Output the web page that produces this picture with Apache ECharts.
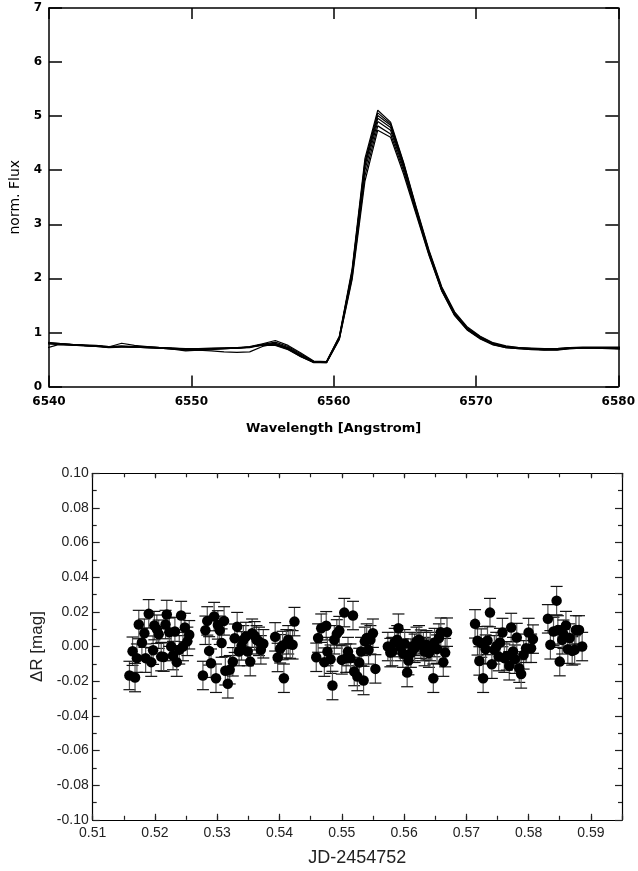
<!DOCTYPE html>
<html><head><meta charset="utf-8">
<script src="https://cdn.jsdelivr.net/npm/echarts@6/dist/echarts.min.js"></script>
<style>html,body{margin:0;padding:0;background:#fff}#c{width:638px;height:871px}</style>
</head><body><div id="c"></div>
<script>
// ---- Top panel: H-alpha spectra ----
var wavelength = [6539.7,6540.6,6541.5,6542.4,6543.3,6544.2,6545.1,6546.0,6546.9,6547.8,6548.7,6549.6,6550.5,6551.4,6552.3,6553.2,6554.1,6555.0,6555.9,6556.8,6557.7,6558.6,6559.5,6560.4,6561.3,6562.2,6563.1,6564.0,6564.9,6565.8,6566.7,6567.6,6568.5,6569.4,6570.3,6571.2,6572.1,6573.0,6573.9,6574.8,6575.7,6576.6,6577.5,6578.4,6579.3,6580.2];
var spec1 = [0.81,0.80,0.78,0.77,0.76,0.74,0.75,0.74,0.73,0.72,0.71,0.70,0.70,0.71,0.71,0.71,0.74,0.79,0.85,0.76,0.62,0.47,0.46,0.93,2.18,4.22,5.11,4.89,4.16,3.32,2.52,1.84,1.38,1.10,0.93,0.81,0.75,0.72,0.71,0.70,0.70,0.72,0.72,0.72,0.72,0.72];
var spec2 = [0.70,0.77,0.77,0.76,0.75,0.73,0.74,0.74,0.73,0.72,0.70,0.68,0.68,0.70,0.71,0.72,0.73,0.78,0.82,0.74,0.60,0.46,0.46,0.92,2.14,4.16,5.06,4.86,4.14,3.30,2.50,1.82,1.36,1.08,0.92,0.80,0.74,0.72,0.70,0.69,0.70,0.72,0.73,0.73,0.73,0.73];
var spec3 = [0.80,0.79,0.77,0.76,0.74,0.73,0.80,0.76,0.74,0.72,0.70,0.67,0.67,0.68,0.70,0.71,0.73,0.78,0.80,0.72,0.58,0.46,0.45,0.91,2.12,4.12,5.01,4.83,4.12,3.28,2.49,1.81,1.35,1.07,0.91,0.79,0.74,0.71,0.70,0.69,0.69,0.71,0.72,0.72,0.72,0.72];
var spec4 = [0.79,0.78,0.77,0.75,0.74,0.72,0.73,0.73,0.72,0.71,0.69,0.68,0.67,0.66,0.64,0.63,0.64,0.74,0.79,0.71,0.57,0.45,0.45,0.90,2.10,4.08,4.96,4.79,4.09,3.26,2.47,1.79,1.34,1.06,0.90,0.79,0.73,0.71,0.69,0.68,0.69,0.71,0.72,0.72,0.71,0.70];
var spec5 = [0.80,0.79,0.77,0.76,0.75,0.73,0.74,0.73,0.72,0.71,0.69,0.66,0.67,0.69,0.70,0.71,0.72,0.77,0.78,0.70,0.56,0.45,0.45,0.89,2.08,4.00,4.90,4.74,4.05,3.24,2.46,1.78,1.33,1.05,0.89,0.78,0.73,0.71,0.69,0.68,0.68,0.71,0.72,0.72,0.72,0.72];
var spec6 = [0.82,0.80,0.78,0.76,0.75,0.74,0.74,0.73,0.73,0.72,0.71,0.69,0.69,0.70,0.71,0.72,0.73,0.77,0.77,0.69,0.55,0.45,0.44,0.88,2.02,3.90,4.82,4.67,4.00,3.21,2.44,1.77,1.32,1.05,0.89,0.78,0.72,0.70,0.69,0.68,0.68,0.70,0.71,0.71,0.71,0.71];
var spec7 = [0.81,0.79,0.78,0.76,0.75,0.73,0.74,0.73,0.72,0.71,0.70,0.69,0.69,0.70,0.70,0.71,0.73,0.76,0.76,0.68,0.55,0.44,0.44,0.87,1.98,3.80,4.74,4.61,3.94,3.18,2.42,1.76,1.31,1.04,0.88,0.77,0.72,0.70,0.68,0.67,0.67,0.70,0.71,0.71,0.70,0.69];
var spectra = [spec1, spec2, spec3, spec4, spec5, spec6, spec7];

// ---- Bottom panel: differential photometry ----
var jd = [0.5159,0.5164,0.5168,0.5171,0.5174,0.5179,0.5183,0.5185,0.5190,0.5194,0.5197,0.5199,0.5203,0.5206,0.5210,0.5214,0.5217,0.5219,0.5223,0.5226,0.5229,0.5232,0.5235,0.5239,0.5242,0.5245,0.5248,0.5252,0.5255,
0.5277,0.5281,0.5284,0.5287,0.5290,0.5295,0.5298,0.5301,0.5304,0.5307,0.5311,0.5313,0.5317,0.5320,0.5325,0.5328,0.5332,0.5335,0.5339,0.5342,0.5346,0.5349,0.5353,0.5356,0.5360,0.5363,0.5367,0.5370,0.5374,
0.5393,0.5397,0.5401,0.5405,0.5407,0.5411,0.5414,0.5417,0.5421,0.5424,
0.5459,0.5462,0.5467,0.5472,0.5475,0.5477,0.5482,0.5485,0.5488,0.5492,0.5496,0.5500,0.5504,0.5507,0.5510,0.5514,0.5518,0.5520,0.5525,0.5528,0.5531,0.5535,0.5537,0.5540,0.5543,0.5546,0.5550,0.5554,
0.5574,0.5578,0.5581,0.5585,0.5589,0.5591,0.5594,0.5598,0.5601,0.5605,0.5607,0.5611,0.5613,0.5617,0.5620,0.5624,0.5627,0.5631,0.5633,0.5636,0.5640,0.5642,0.5647,0.5649,0.5653,0.5656,0.5659,0.5663,0.5666,0.5669,
0.5714,0.5718,0.5721,0.5724,0.5727,0.5731,0.5734,0.5738,0.5741,0.5745,0.5748,0.5752,0.5754,0.5758,0.5761,0.5765,0.5769,0.5772,0.5775,0.5778,0.5781,0.5785,0.5788,0.5792,0.5796,0.5800,0.5804,0.5807,
0.5831,0.5835,0.5840,0.5845,0.5847,0.5850,0.5854,0.5856,0.5860,0.5863,0.5866,0.5870,0.5874,0.5876,0.5881,0.5886];
var dR = [-0.0167,-0.0027,-0.0179,-0.0067,0.0127,0.0023,0.0077,-0.0067,0.0189,-0.0090,-0.0021,0.0121,0.0100,0.0071,-0.0058,-0.0061,0.0127,0.0185,0.0083,0.0000,-0.0052,0.0087,-0.0090,-0.0019,0.0179,0.0000,0.0110,0.0030,0.0068,
-0.0167,0.0094,0.0148,-0.0025,-0.0096,0.0173,-0.0183,0.0125,0.0094,0.0020,0.0148,-0.0140,-0.0215,-0.0134,-0.0088,0.0048,0.0115,-0.0029,0.0004,0.0039,0.0058,-0.0029,-0.0087,0.0077,0.0062,0.0039,0.0030,-0.0019,0.0016,
0.0056,-0.0063,-0.0013,0.0006,-0.0183,0.0016,0.0039,0.0014,0.0010,0.0144,
-0.0062,0.0049,0.0106,-0.0090,0.0120,-0.0029,-0.0073,-0.0225,0.0039,0.0073,0.0092,-0.0077,0.0196,-0.0067,-0.0029,-0.0067,0.0179,-0.0144,-0.0173,-0.0092,-0.0029,-0.0196,0.0030,0.0049,-0.0019,0.0039,0.0077,-0.0129,
0.0000,-0.0035,-0.0029,0.0023,0.0039,0.0106,0.0000,-0.0038,0.0016,-0.0150,-0.0081,-0.0038,0.0000,-0.0010,0.0030,0.0039,0.0014,0.0000,-0.0029,0.0010,-0.0038,0.0000,-0.0183,0.0023,-0.0015,0.0049,0.0083,-0.0090,-0.0035,0.0083,
0.0131,0.0033,-0.0083,0.0020,-0.0183,-0.0015,0.0035,0.0196,-0.0102,-0.0019,0.0000,-0.0058,0.0023,0.0081,-0.0067,-0.0054,-0.0111,0.0110,-0.0029,-0.0073,0.0052,-0.0125,-0.0158,-0.0048,-0.0010,0.0081,-0.0010,0.0043,
0.0160,0.0010,0.0087,0.0265,0.0096,-0.0087,0.0039,0.0071,0.0121,-0.0015,0.0049,-0.0025,-0.0019,0.0096,0.0096,0.0000];
var dRerr = 0.0082;

var topXTicks = ['6540','6550','6560','6570','6580'];

var chart = echarts.init(document.getElementById('c'), null, {renderer:'canvas'});

var boldFont = 'DejaVu Sans';
var sansFont = 'Liberation Sans';

var specSeries = spectra.map(function (s) {
  return {
    type: 'line', xAxisIndex: 0, yAxisIndex: 0, showSymbol: false, symbol: 'none',
    data: wavelength.map(function (w, i) { return [w, s[i]]; }),
    lineStyle: {color: '#000', width: 1.2}, clip: true, animation: false, silent: true
  };
});

var pts = jd.map(function (x, i) { return [x, dR[i]]; });

var errSeries = {
  type: 'custom', xAxisIndex: 4, yAxisIndex: 2, animation: false, silent: true,
  data: jd.map(function (x, i) { return [x, dR[i] - dRerr, dR[i] + dRerr]; }),
  renderItem: function (params, api) {
    var lo = api.coord([api.value(0), api.value(1)]);
    var hi = api.coord([api.value(0), api.value(2)]);
    var hw = 6;
    return {
      type: 'group',
      children: [
        {type: 'line', shape: {x1: lo[0], y1: lo[1], x2: hi[0], y2: hi[1]}, style: {stroke: '#555', lineWidth: 1.2}},
        {type: 'line', shape: {x1: lo[0] - hw, y1: lo[1], x2: lo[0] + hw, y2: lo[1]}, style: {stroke: '#111', lineWidth: 1.2}},
        {type: 'line', shape: {x1: hi[0] - hw, y1: hi[1], x2: hi[0] + hw, y2: hi[1]}, style: {stroke: '#111', lineWidth: 1.2}}
      ]
    };
  }
};

var ptSeries = {
  type: 'scatter', xAxisIndex: 4, yAxisIndex: 2, data: pts, symbol: 'circle', symbolSize: 10.5,
  itemStyle: {color: '#000', opacity: 1}, animation: false, silent: true
};

function frameAxisLine(w) { return {show: true, onZero: false, lineStyle: {color: '#000', width: w}}; }

var option = {
  backgroundColor: '#fff',
  animation: false,
  grid: [
    {left: 48.5, top: 8, right: 14.5, height: 378.5},
    {left: 92.7, top: 473.3, right: 16, height: 346.5}
  ],
  xAxis: [
    {type: 'value', gridIndex: 0, min: 6540, max: 6580, interval: 10, position: 'bottom',
     axisLine: frameAxisLine(1.5), axisTick: {inside: true, length: 11, lineStyle: {color: '#000', width: 1.5}},
     axisLabel: {margin: 9, color: '#000', fontFamily: boldFont, fontWeight: 'bold', fontSize: 12,
       formatter: function (v) { return topXTicks.indexOf(String(v)) >= 0 ? String(v) : ''; }},
     splitLine: {show: false},
     name: 'Wavelength [Angstrom]', nameLocation: 'middle', nameGap: 36,
     nameTextStyle: {color: '#000', fontFamily: boldFont, fontWeight: 'bold', fontSize: 13}},
    {type: 'value', gridIndex: 0, min: 6540, max: 6580, interval: 10, position: 'top',
     axisLine: frameAxisLine(1.5), axisTick: {inside: true, length: 11, lineStyle: {color: '#000', width: 1.5}},
     axisLabel: {show: false}, splitLine: {show: false}},
    {type: 'value', gridIndex: 1, min: 0.51, max: 0.595, interval: 0.005, position: 'bottom',
     axisLine: frameAxisLine(1.2), axisTick: {inside: true, length: 4, lineStyle: {color: '#222', width: 1.2}},
     axisLabel: {show: false}, splitLine: {show: false}},
    {type: 'value', gridIndex: 1, min: 0.51, max: 0.595, interval: 0.005, position: 'top',
     axisLine: frameAxisLine(1.2), axisTick: {inside: true, length: 4, lineStyle: {color: '#222', width: 1.2}},
     axisLabel: {show: false}, splitLine: {show: false}},
    {type: 'value', gridIndex: 1, min: 0.51, max: 0.595, interval: 0.01, position: 'bottom',
     axisLine: frameAxisLine(1.2), axisTick: {inside: true, length: 6, lineStyle: {color: '#222', width: 1.2}},
     axisLabel: {margin: 6, color: '#222', fontFamily: sansFont, fontSize: 14,
       formatter: function (v) { var k = Math.round(v * 100); return Math.abs(v * 100 - k) < 1e-6 ? (k / 100).toFixed(2) : ''; }},
     splitLine: {show: false},
     name: 'JD-2454752', nameLocation: 'middle', nameGap: 29,
     nameTextStyle: {color: '#222', fontFamily: sansFont, fontSize: 18}},
    {type: 'value', gridIndex: 1, min: 0.51, max: 0.595, interval: 0.01, position: 'top',
     axisLine: frameAxisLine(1.2), axisTick: {inside: true, length: 5, lineStyle: {color: '#222', width: 1.2}},
     axisLabel: {show: false}, splitLine: {show: false}}
  ],
  yAxis: [
    {type: 'value', gridIndex: 0, min: 0, max: 7, interval: 1, position: 'left',
     axisLine: frameAxisLine(1.5), axisTick: {inside: true, length: 13, lineStyle: {color: '#000', width: 1.5}},
     axisLabel: {margin: 7, color: '#000', fontFamily: boldFont, fontWeight: 'bold', fontSize: 12},
     splitLine: {show: false},
     name: 'norm. Flux', nameLocation: 'middle', nameGap: 27,
     nameTextStyle: {color: '#000', fontFamily: boldFont, fontSize: 14}},
    {type: 'value', gridIndex: 0, min: 0, max: 7, interval: 1, position: 'right',
     axisLine: frameAxisLine(1.5), axisTick: {inside: true, length: 13, lineStyle: {color: '#000', width: 1.5}},
     axisLabel: {show: false}, splitLine: {show: false}},
    {type: 'value', gridIndex: 1, min: -0.1, max: 0.1, interval: 0.02, position: 'left',
     axisLine: frameAxisLine(1.2), axisTick: {inside: true, length: 7, lineStyle: {color: '#222', width: 1.2}},
     minorTick: {show: true, splitNumber: 2, length: 4, lineStyle: {color: '#222', width: 1.2}},
     axisLabel: {margin: 4, color: '#222', fontFamily: sansFont, fontSize: 14,
       formatter: function (v) { return v.toFixed(2); }},
     splitLine: {show: false},
     name: 'ΔR [mag]', nameLocation: 'middle', nameGap: 45,
     nameTextStyle: {color: '#222', fontFamily: sansFont, fontSize: 17}},
    {type: 'value', gridIndex: 1, min: -0.1, max: 0.1, interval: 0.02, position: 'right',
     axisLine: frameAxisLine(1.2), axisTick: {inside: true, length: 7, lineStyle: {color: '#222', width: 1.2}},
     minorTick: {show: true, splitNumber: 2, length: 4, lineStyle: {color: '#222', width: 1.2}},
     axisLabel: {show: false}, splitLine: {show: false}}
  ],
  series: specSeries.concat([errSeries, ptSeries])
};
chart.setOption(option);
</script>
</body></html>
